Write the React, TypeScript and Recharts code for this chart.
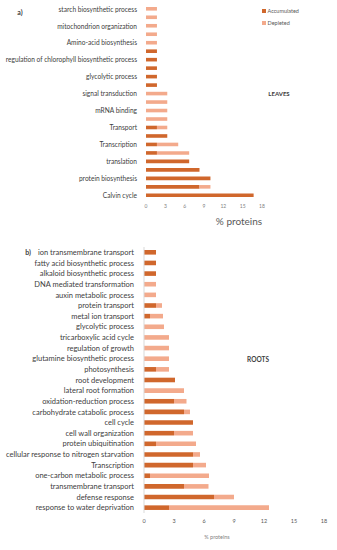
import React from "react";
import { BarChart, Bar, XAxis, YAxis, Legend } from "recharts";

// leaves: 23 rows, only every other row carries a label
const leafLabels = [
  "starch biosynthetic process", "", "mitochondrion organization", "", "Amino-acid biosynthesis", "",
  "regulation of chlorophyll biosynthetic process", "", "glycolytic process", "", "signal transduction", "",
  "mRNA binding", "", "Transport", "", "Transcription", "", "translation", "",
  "protein biosynthesis", "", "Calvin cycle",
];
const leafAccumulated = [0, 0, 0, 0, 0, 1.7, 1.7, 1.7, 1.7, 1.7, 0, 0, 0, 0, 1.7, 3.3, 1.7, 1.7, 6.7, 8.3, 10, 8.3, 16.7];
const leafDepleted = [1.7, 1.7, 1.7, 1.7, 1.7, 0, 0, 0, 0, 0, 3.3, 3.3, 3.3, 3.3, 1.6, 0, 3.3, 5.0, 0, 0, 0, 1.7, 0];

const rootLabels = [
  "ion transmembrane transport", "fatty acid biosynthetic process", "alkaloid biosynthetic process",
  "DNA mediated transformation", "auxin metabolic process", "protein transport", "metal ion transport",
  "glycolytic process", "tricarboxylic acid cycle", "regulation of growth", "glutamine biosynthetic process",
  "photosynthesis", "root development", "lateral root formation", "oxidation-reduction process",
  "carbohydrate catabolic process", "cell cycle", "cell wall organization", "protein ubiquitination",
  "cellular response to nitrogen starvation", "Transcription", "one-carbon metabolic process",
  "transmembrane transport", "defense response", "response to water deprivation",
];
const rootAccumulated = [1.2, 1.2, 1.2, 0, 0, 1.2, 0.6, 0, 0, 0, 0, 1.2, 3.1, 0, 3.0, 4.0, 4.9, 3.0, 1.2, 4.9, 4.9, 0.6, 4.0, 7.0, 2.5];
const rootDepleted = [0, 0, 0, 1.2, 1.2, 0.6, 1.3, 2.0, 2.5, 2.5, 2.5, 1.3, 0, 4.0, 1.25, 0.6, 0, 1.9, 4.0, 0.7, 1.3, 5.9, 2.45, 2.0, 10.0];

const xTicks = [0, 3, 6, 9, 12, 15, 18];

const DARK = "#D0672C";
const LIGHT = "#F3AA8C";
const FONT = "Lato, 'Liberation Sans', sans-serif";

const leafData = leafLabels.map((_, i) => ({ i, acc: leafAccumulated[i], dep: leafDepleted[i] }));
const rootData = rootLabels.map((_, i) => ({ i, acc: rootAccumulated[i], dep: rootDepleted[i] }));

function Txt({ x, y, size, bold, children, color = "#404040" }: any) {
  return (
    <div
      style={{
        position: "absolute", left: x, top: y, transform: "translate(-50%, -50%)",
        fontFamily: FONT, fontSize: size, fontWeight: bold ? 700 : 400, color,
        whiteSpace: "nowrap", lineHeight: 1,
      }}
    >
      {children}
    </div>
  );
}

// single-line category label, right aligned against the axis
function makeTick(labels: string[], size: number, gap: number) {
  return (props: any) => {
    const { x, y, payload } = props;
    return (
      <text x={x - gap} y={y} dy="0.35em" textAnchor="end" fontSize={size}
        fontFamily={FONT} fill="#404040">
        {labels[payload.value]}
      </text>
    );
  };
}

function LegendBox() {
  const items = [
    { name: "Accumulated", color: DARK },
    { name: "Depleted", color: LIGHT },
  ];
  return (
    <div style={{ fontFamily: FONT, fontSize: 5.5, color: "#595959" }}>
      {items.map((it) => (
        <div key={it.name} style={{ display: "flex", alignItems: "center", height: 12 }}>
          <span style={{ width: 3.5, height: 3.5, background: it.color, marginRight: 2 }} />
          {it.name}
        </div>
      ))}
    </div>
  );
}

export default function App() {
  return (
    <div style={{ position: "absolute", left: 0, top: 0, width: 337, height: 550, background: "#fff" }}>
      <div style={{ position: "absolute", left: 0, top: 0 }}>
        <BarChart width={337} height={215} data={leafData} layout="vertical"
          margin={{ top: 5, right: 5, bottom: 0, left: 0 }}>
          <XAxis type="number" domain={[0, 18]} ticks={xTicks} height={15}
            axisLine={false} tickLine={false} tickSize={0} tickMargin={4}
            tick={{ fontSize: 5, fill: "#7f7f7f", fontFamily: FONT }} />
          <YAxis type="category" dataKey="i" width={146} interval={0}
            axisLine={false} tickLine={false} tickSize={0}
            tick={makeTick(leafLabels, 6.6, 7)} />
          <Legend layout="vertical" verticalAlign="top" align="right"
            wrapperStyle={{ top: 5, left: 262, width: 70 }} content={() => <LegendBox />} />
          <Bar dataKey="acc" name="Accumulated" stackId="s" fill={DARK} barSize={3.6} isAnimationActive={false} />
          <Bar dataKey="dep" name="Depleted" stackId="s" fill={LIGHT} barSize={3.6} isAnimationActive={false} />
        </BarChart>
      </div>

      <div style={{ position: "absolute", left: 0, top: 240 }}>
        <BarChart width={337} height={290} data={rootData} layout="vertical"
          margin={{ top: 7, right: 13, bottom: 0, left: 0 }}>
          <XAxis type="number" domain={[0, 18]} ticks={xTicks} height={17}
            axisLine={false} tickLine={false} tickSize={0} tickMargin={6}
            tick={{ fontSize: 5.5, fill: "#595959", fontFamily: FONT }} />
          <YAxis type="category" dataKey="i" width={144} interval={0}
            axisLine={{ stroke: "#d9d9d9" }} tickLine={false} tickSize={0}
            tick={makeTick(rootLabels, 7.5, 8)} />
          <Bar dataKey="acc" name="Accumulated" stackId="s" fill={DARK} barSize={4.6} isAnimationActive={false} />
          <Bar dataKey="dep" name="Depleted" stackId="s" fill={LIGHT} barSize={4.6} isAnimationActive={false} />
        </BarChart>
      </div>

      <Txt x={20} y={12} size={7} bold>a)</Txt>
      <Txt x={279} y={94} size={6} bold>LEAVES</Txt>
      <Txt x={239} y={221} size={10} color="#595959">% proteins</Txt>
      <Txt x={28} y={252} size={7} bold>b)</Txt>
      <Txt x={258} y={360} size={6.5} bold>ROOTS</Txt>
      <Txt x={217} y={538} size={5.5} color="#7f7f7f">% proteins</Txt>
    </div>
  );
}
